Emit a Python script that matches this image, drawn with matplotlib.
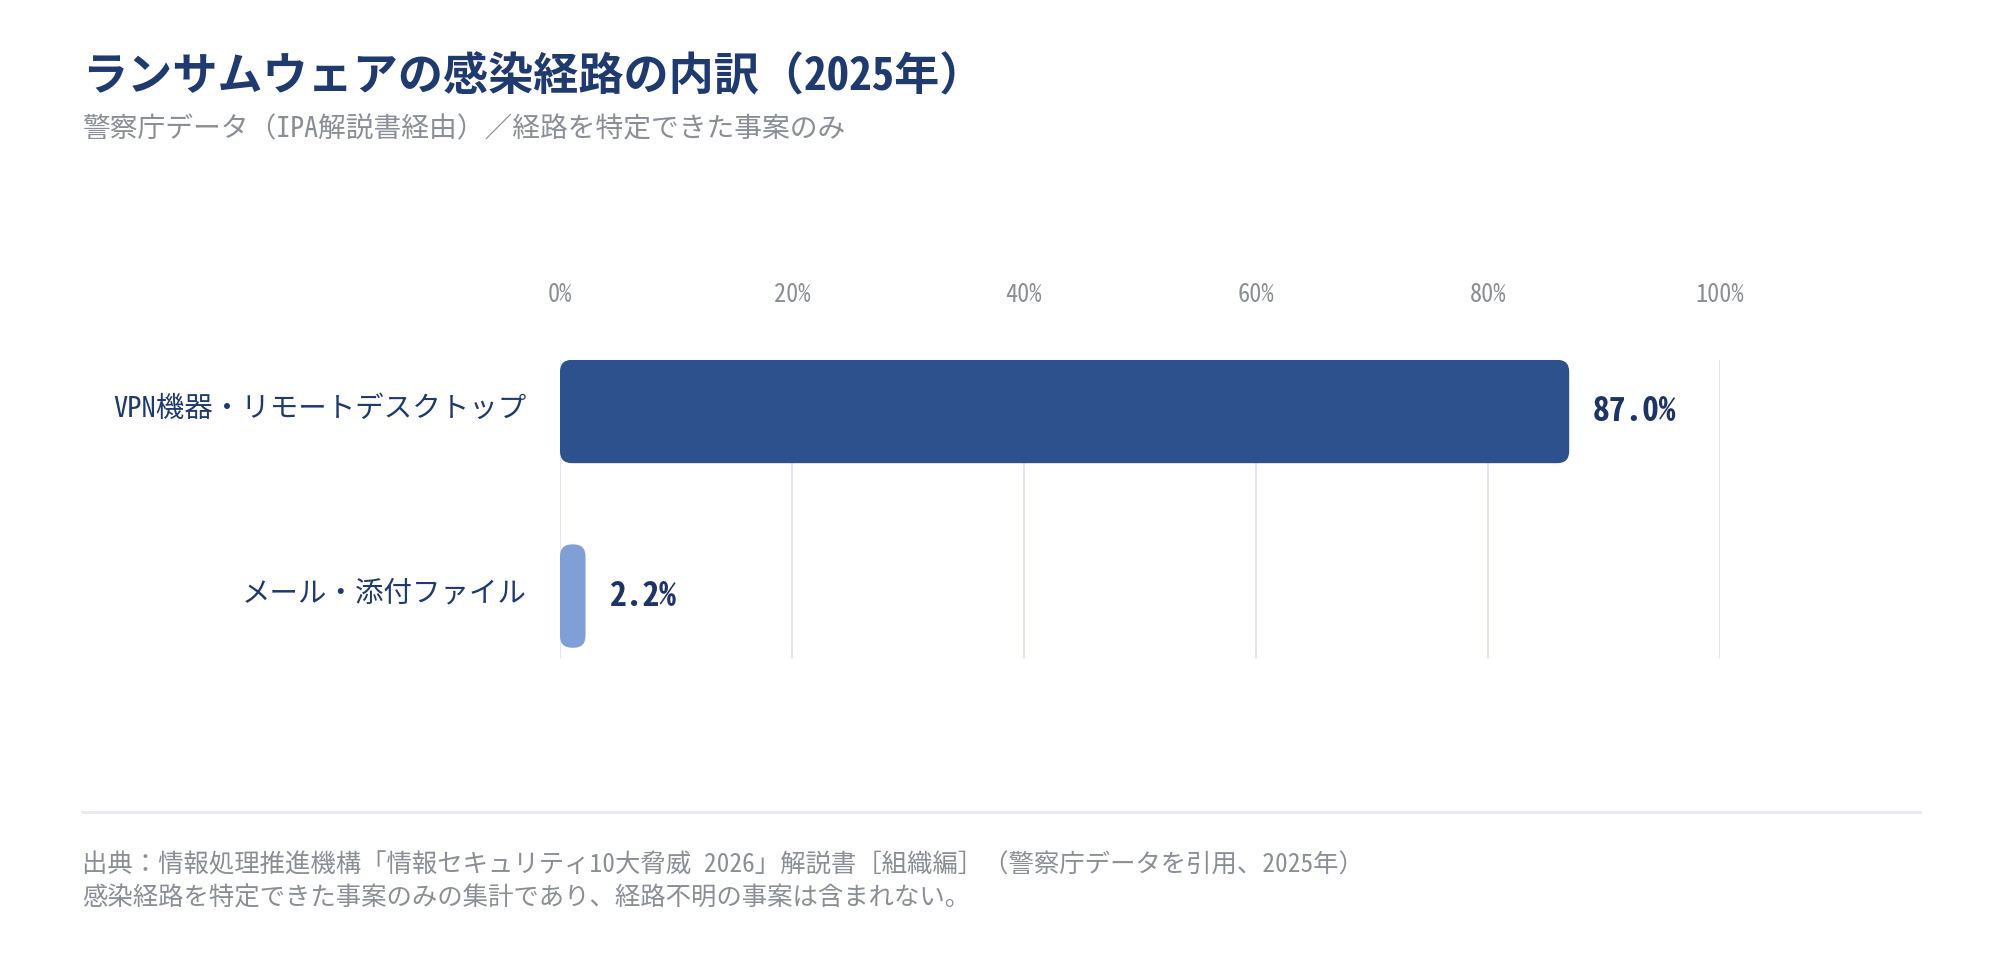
"""
Ransomware infection routes (2025) - horizontal bar chart.
"""

import matplotlib
matplotlib.use('Agg')
import matplotlib.pyplot as plt
from matplotlib.patches import FancyBboxPatch
from matplotlib.lines import Line2D
from matplotlib.transforms import ScaledTranslation

plt.rcParams['font.family'] = ['Noto Sans Mono CJK JP', 'Noto Sans CJK JP', 'DejaVu Sans']

TITLE = 'ランサムウェアの感染経路の内訳（2025年）'
SUBTITLE = '警察庁データ（IPA解説書経由）／経路を特定できた事案のみ'
CATEGORIES = ['VPN機器・リモートデスクトップ', 'メール・添付ファイル']
VALUES = [87.0, 2.2]
BAR_COLORS = ['#2d518d', '#7f9fd6']
X_TICKS = [0, 20, 40, 60, 80, 100]
FOOTNOTES = [
    '出典：情報処理推進機構「情報セキュリティ10大脅威 2026」解説書［組織編］（警察庁データを引用、2025年）',
    '感染経路を特定できた事案のみの集計であり、経路不明の事案は含まれない。',
]

NAVY = '#1f3a6e'
GRAY = '#8a8e96'
GRID = '#e3e6f0'

W, H = 2000, 960
fig = plt.figure(figsize=(W / 100, H / 100), dpi=100)
fig.patch.set_facecolor('white')

# axes placed in pixel terms: x 560..1720, y 360..659
ax = fig.add_axes([560 / W, 1 - 659 / H, 1160 / W, 299 / H])
ax.set_xlim(0, 100)
ylo, yhi = -0.279, 1.341
ax.set_ylim(yhi, ylo)

bar_h = 0.56
rad_px = 12
xu_per_px = 100 / 1160
yu_per_px = (yhi - ylo) / 299
for i, (v, c) in enumerate(zip(VALUES, BAR_COLORS)):
    r = min(rad_px * xu_per_px, v / 2)
    box = FancyBboxPatch((0, i - bar_h / 2), v, bar_h,
                         boxstyle=f'round,pad=0,rounding_size={r}',
                         mutation_aspect=yu_per_px / xu_per_px,
                         facecolor=c, edgecolor='none', zorder=3)
    ax.add_patch(box)
    ax.annotate(f'{v:.1f}%', xy=(v, i), xytext=(17, 0), textcoords='offset points',
                ha='left', va='center', fontsize=24, fontweight='bold',
                color='#1e3466', zorder=4)

ax.set_xticks(X_TICKS)
ax.set_xticklabels([f'{t}%' for t in X_TICKS])
ax.xaxis.tick_top()
ax.tick_params(axis='x', length=0, pad=38, labelsize=17.5, labelcolor=GRAY)
ax.set_yticks(range(len(CATEGORIES)))
ax.set_yticklabels(CATEGORIES)
ax.tick_params(axis='y', length=0, pad=24, labelsize=20.5, labelcolor=NAVY)
for lbl in ax.get_yticklabels():
    lbl.set_transform(lbl.get_transform() + ScaledTranslation(0, 6 / 100, fig.dpi_scale_trans))

ax.grid(axis='x', color=GRID, linewidth=1.5, zorder=0)
ax.set_axisbelow(True)
for s in ax.spines.values():
    s.set_visible(False)

fig.text(82 / W, 1 - 77 / H, TITLE, fontsize=32.5, fontweight='bold', color=NAVY,
         ha='left', va='center')
fig.text(82 / W, 1 - 129 / H, SUBTITLE, fontsize=20, color=GRAY, ha='left', va='center')

fig.add_artist(Line2D([82 / W, 1920 / W], [1 - 812 / H, 1 - 812 / H],
                      color='#e6e8f5', linewidth=2, transform=fig.transFigure))
fig.text(82 / W, 1 - 865 / H, FOOTNOTES[0], fontsize=18.3, color=GRAY, ha='left', va='center')
fig.text(82 / W, 1 - 898 / H, FOOTNOTES[1], fontsize=18.3, color=GRAY, ha='left', va='center')

plt.savefig('out.png', dpi=100)
plt.close()
